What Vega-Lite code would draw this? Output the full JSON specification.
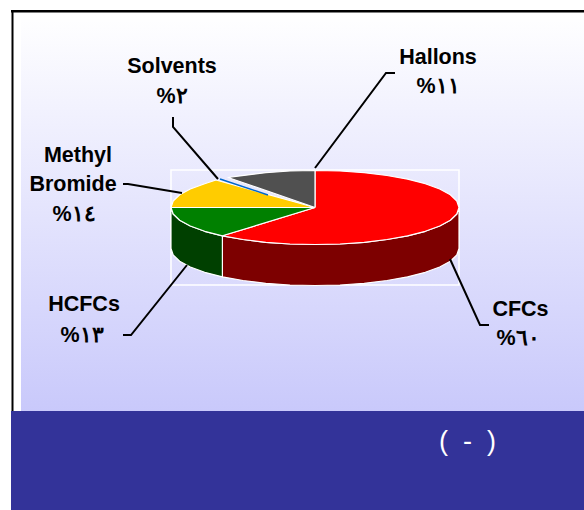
{"$schema":"https://vega.github.io/schema/vega-lite/v6.json","width":584,"height":510,"padding":0,"autosize":{"type":"fit","contains":"padding"},"background":"white","config":{"view":{"stroke":null}},
"datasets":{
"wedges":[
{"wedge":"CFCs side","i":0,"x":459,"y":207.5},{"wedge":"CFCs side","i":1,"x":456.8,"y":214},{"wedge":"CFCs side","i":2,"x":450.3,"y":220.2},{"wedge":"CFCs side","i":3,"x":439.7,"y":226},{"wedge":"CFCs side","i":4,"x":425.3,"y":231.3},{"wedge":"CFCs side","i":5,"x":407.6,"y":235.8},{"wedge":"CFCs side","i":6,"x":387,"y":239.5},{"wedge":"CFCs side","i":7,"x":364.2,"y":242.3},{"wedge":"CFCs side","i":8,"x":340,"y":244},{"wedge":"CFCs side","i":9,"x":315,"y":244.5},{"wedge":"CFCs side","i":10,"x":290,"y":244},{"wedge":"CFCs side","i":11,"x":265.8,"y":242.3},{"wedge":"CFCs side","i":12,"x":243,"y":239.5},{"wedge":"CFCs side","i":13,"x":222.4,"y":235.8},{"wedge":"CFCs side","i":14,"x":222.4,"y":276.8},{"wedge":"CFCs side","i":15,"x":243,"y":280.5},{"wedge":"CFCs side","i":16,"x":265.8,"y":283.3},{"wedge":"CFCs side","i":17,"x":290,"y":285},{"wedge":"CFCs side","i":18,"x":315,"y":285.5},{"wedge":"CFCs side","i":19,"x":340,"y":285},{"wedge":"CFCs side","i":20,"x":364.2,"y":283.3},{"wedge":"CFCs side","i":21,"x":387,"y":280.5},{"wedge":"CFCs side","i":22,"x":407.6,"y":276.8},{"wedge":"CFCs side","i":23,"x":425.3,"y":272.3},{"wedge":"CFCs side","i":24,"x":439.7,"y":267},{"wedge":"CFCs side","i":25,"x":450.3,"y":261.2},{"wedge":"CFCs side","i":26,"x":456.8,"y":255},{"wedge":"CFCs side","i":27,"x":459,"y":248.5},{"wedge":"CFCs side","i":28,"x":459,"y":207.5},
{"wedge":"HCFCs side","i":0,"x":222.4,"y":235.8},{"wedge":"HCFCs side","i":1,"x":204.7,"y":231.3},{"wedge":"HCFCs side","i":2,"x":190.3,"y":226},{"wedge":"HCFCs side","i":3,"x":179.7,"y":220.2},{"wedge":"HCFCs side","i":4,"x":173.2,"y":214},{"wedge":"HCFCs side","i":5,"x":171,"y":207.5},{"wedge":"HCFCs side","i":6,"x":171,"y":248.5},{"wedge":"HCFCs side","i":7,"x":173.2,"y":255},{"wedge":"HCFCs side","i":8,"x":179.7,"y":261.2},{"wedge":"HCFCs side","i":9,"x":190.3,"y":267},{"wedge":"HCFCs side","i":10,"x":204.7,"y":272.3},{"wedge":"HCFCs side","i":11,"x":222.4,"y":276.8},{"wedge":"HCFCs side","i":12,"x":222.4,"y":235.8},
{"wedge":"CFCs","i":0,"x":315,"y":207.5},{"wedge":"CFCs","i":1,"x":315,"y":170.5},{"wedge":"CFCs","i":2,"x":340,"y":171},{"wedge":"CFCs","i":3,"x":364.2,"y":172.7},{"wedge":"CFCs","i":4,"x":387,"y":175.5},{"wedge":"CFCs","i":5,"x":407.6,"y":179.2},{"wedge":"CFCs","i":6,"x":425.3,"y":183.7},{"wedge":"CFCs","i":7,"x":439.7,"y":189},{"wedge":"CFCs","i":8,"x":450.3,"y":194.8},{"wedge":"CFCs","i":9,"x":456.8,"y":201},{"wedge":"CFCs","i":10,"x":459,"y":207.5},{"wedge":"CFCs","i":11,"x":456.8,"y":214},{"wedge":"CFCs","i":12,"x":450.3,"y":220.2},{"wedge":"CFCs","i":13,"x":439.7,"y":226},{"wedge":"CFCs","i":14,"x":425.3,"y":231.3},{"wedge":"CFCs","i":15,"x":407.6,"y":235.8},{"wedge":"CFCs","i":16,"x":387,"y":239.5},{"wedge":"CFCs","i":17,"x":364.2,"y":242.3},{"wedge":"CFCs","i":18,"x":340,"y":244},{"wedge":"CFCs","i":19,"x":315,"y":244.5},{"wedge":"CFCs","i":20,"x":290,"y":244},{"wedge":"CFCs","i":21,"x":265.8,"y":242.3},{"wedge":"CFCs","i":22,"x":243,"y":239.5},{"wedge":"CFCs","i":23,"x":222.4,"y":235.8},{"wedge":"CFCs","i":24,"x":315,"y":207.5},
{"wedge":"HCFCs","i":0,"x":315,"y":207.5},{"wedge":"HCFCs","i":1,"x":222.4,"y":235.8},{"wedge":"HCFCs","i":2,"x":204.7,"y":231.3},{"wedge":"HCFCs","i":3,"x":190.3,"y":226},{"wedge":"HCFCs","i":4,"x":179.7,"y":220.2},{"wedge":"HCFCs","i":5,"x":173.2,"y":214},{"wedge":"HCFCs","i":6,"x":171,"y":207.5},{"wedge":"HCFCs","i":7,"x":315,"y":207.5},
{"wedge":"Methyl Bromide","i":0,"x":315,"y":207.5},{"wedge":"Methyl Bromide","i":1,"x":171,"y":207.5},{"wedge":"Methyl Bromide","i":2,"x":173.2,"y":201},{"wedge":"Methyl Bromide","i":3,"x":179.7,"y":194.8},{"wedge":"Methyl Bromide","i":4,"x":190.3,"y":189},{"wedge":"Methyl Bromide","i":5,"x":204.7,"y":183.7},{"wedge":"Methyl Bromide","i":6,"x":216,"y":180},{"wedge":"Methyl Bromide","i":7,"x":315,"y":207.5},
{"wedge":"Hallons","i":0,"x":315,"y":207.5},{"wedge":"Hallons","i":1,"x":228,"y":177.5},{"wedge":"Hallons","i":2,"x":240,"y":175.9},{"wedge":"Hallons","i":3,"x":265.8,"y":172.7},{"wedge":"Hallons","i":4,"x":290,"y":171},{"wedge":"Hallons","i":5,"x":315,"y":170.5},{"wedge":"Hallons","i":6,"x":315,"y":207.5}
],
"solvents":[{"wedge":"Solvents","i":0,"x":220,"y":179},{"wedge":"Solvents","i":1,"x":268,"y":195}],
"leaders":[
{"to":"Hallons","i":0,"x":395,"y":73},{"to":"Hallons","i":1,"x":386,"y":73},{"to":"Hallons","i":2,"x":315,"y":168},
{"to":"Solvents","i":0,"x":173,"y":117},{"to":"Solvents","i":1,"x":173,"y":127},{"to":"Solvents","i":2,"x":218,"y":179},
{"to":"Methyl Bromide","i":0,"x":123,"y":184},{"to":"Methyl Bromide","i":1,"x":128,"y":184},{"to":"Methyl Bromide","i":2,"x":182,"y":193},
{"to":"HCFCs","i":0,"x":123,"y":335},{"to":"HCFCs","i":1,"x":131,"y":335},{"to":"HCFCs","i":2,"x":187,"y":265},
{"to":"CFCs","i":0,"x":489,"y":325},{"to":"CFCs","i":1,"x":480,"y":325},{"to":"CFCs","i":2,"x":450,"y":259}
],
"labels":[
{"label":"Hallons","x":438,"y":58},{"label":"%١١","x":438,"y":87},
{"label":"Solvents","x":172,"y":67},{"label":"%٢","x":172,"y":97},
{"label":"Methyl","x":78,"y":156},{"label":"Bromide","x":73,"y":185},{"label":"%١٤","x":74,"y":215},
{"label":"HCFCs","x":84,"y":305},{"label":"%١٣","x":82,"y":336},
{"label":"CFCs","x":520.5,"y":310},{"label":"%٦٠","x":518,"y":339}
]},
"encoding":{"x":{"field":"x","type":"quantitative","scale":{"domain":[0,584],"nice":false,"zero":false},"axis":null},"y":{"field":"y","type":"quantitative","scale":{"domain":[510,0],"nice":false,"zero":false},"axis":null}},
"layer":[
{"data":{"values":[{"x":11,"x2":584,"y":10,"y2":12.5}]},"mark":{"type":"rect","color":"black"},"encoding":{"x2":{"field":"x2"},"y2":{"field":"y2"}}},
{"data":{"values":[{"x":11.5,"x2":13.5,"y":10,"y2":411}]},"mark":{"type":"rect","color":"black"},"encoding":{"x2":{"field":"x2"},"y2":{"field":"y2"}}},
{"data":{"values":[{"x":21,"x2":584,"y":13,"y2":411}]},"mark":{"type":"rect","color":{"gradient":"linear","x1":0,"y1":0,"x2":0,"y2":1,"stops":[{"offset":0,"color":"#ffffff"},{"offset":1,"color":"#c9c9fb"}]}},"encoding":{"x2":{"field":"x2"},"y2":{"field":"y2"}}},
{"data":{"values":[{"x":11,"x2":584,"y":411,"y2":510}]},"mark":{"type":"rect","color":"#333399"},"encoding":{"x2":{"field":"x2"},"y2":{"field":"y2"}}},
{"data":{"values":[{"x":171,"x2":459,"y":170,"y2":285}]},"mark":{"type":"rect","fillOpacity":0,"stroke":"white","strokeWidth":1.5},"encoding":{"x2":{"field":"x2"},"y2":{"field":"y2"}}},
{"data":{"name":"wedges"},"mark":{"type":"line","stroke":"white","strokeWidth":1.2,"strokeJoin":"round","clip":false},"encoding":{"fill":{"field":"wedge","type":"nominal","legend":null,"scale":{"domain":["CFCs side","HCFCs side","CFCs","HCFCs","Methyl Bromide","Hallons"],"range":["#7d0000","#004000","#ff0000","#008000","#ffcc00","#505050"]}},"order":{"field":"i","type":"quantitative"}}},
{"data":{"name":"solvents"},"mark":{"type":"line","stroke":"#0066cc","strokeWidth":1.5},"encoding":{"order":{"field":"i","type":"quantitative"}}},
{"data":{"name":"leaders"},"mark":{"type":"line","stroke":"black","strokeWidth":2},"encoding":{"detail":{"field":"to"},"order":{"field":"i","type":"quantitative"}}},
{"data":{"name":"labels"},"mark":{"type":"text","font":"Liberation Sans","fontWeight":"bold","fontSize":21.5,"align":"center","baseline":"middle","color":"black"},"encoding":{"text":{"field":"label"}}},
{"data":{"values":[{"label":"(\u00a0\u00a0-\u00a0\u00a0)","x":467.5,"y":442}]},"mark":{"type":"text","font":"Liberation Sans","fontSize":27,"align":"center","baseline":"middle","color":"white"},"encoding":{"text":{"field":"label"}}}
]}
